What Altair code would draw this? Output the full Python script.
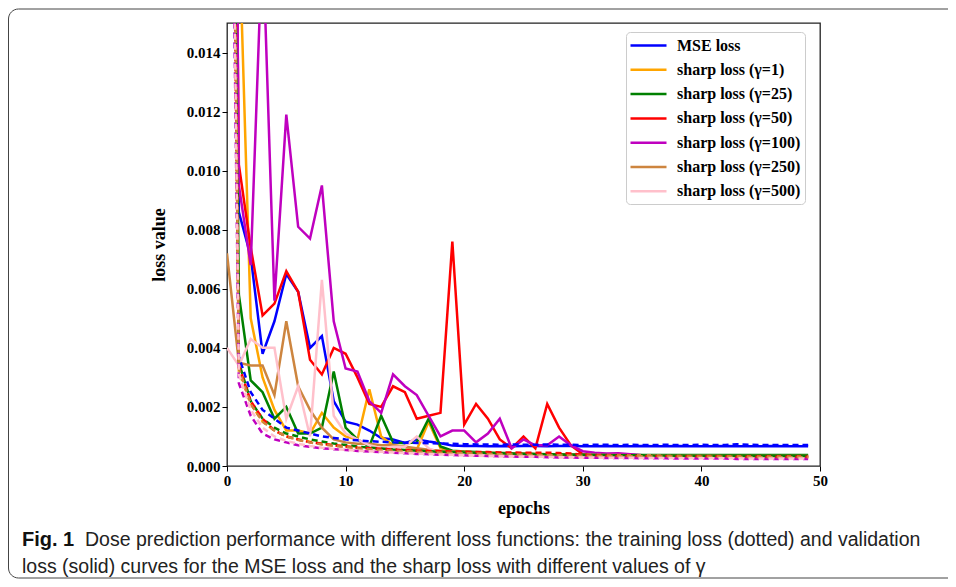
import altair as alt
import pandas as pd

epochs = list(range(50))

series_names = ["MSE loss", "sharp loss (γ=1)", "sharp loss (γ=25)", "sharp loss (γ=50)",
                "sharp loss (γ=100)", "sharp loss (γ=250)", "sharp loss (γ=500)"]
colors = ["#0000ff", "#ffa500", "#008000", "#ff0000", "#bf00bf", "#cd853f", "#ffc0cb"]

blue_val = [0.040, 0.0086, 0.0071, 0.0038, 0.0049, 0.0065, 0.0059, 0.0040, 0.0044, 0.0022,
            0.0015, 0.0014, 0.0012, 0.00095, 0.0009, 0.00078, 0.0009, 0.00083, 0.00077, 0.00069,
            0.00068, 0.00068, 0.00067, 0.00068, 0.00067, 0.00068, 0.00068, 0.00067, 0.00068, 0.00068,
            0.00067, 0.00067, 0.00068, 0.00067, 0.00067, 0.00068, 0.00067, 0.00067, 0.00068, 0.00067,
            0.00067, 0.00067, 0.00068, 0.00067, 0.00067, 0.00067, 0.00068, 0.00067, 0.00067, 0.00067]
blue_train = [0.036, 0.0037, 0.0025, 0.0019, 0.0016, 0.0013, 0.0012, 0.0011, 0.00100, 0.00095,
              0.00090, 0.00087, 0.00084, 0.00082, 0.00080, 0.00079, 0.00078, 0.00077, 0.00076, 0.00075,
              0.00074, 0.00073, 0.00073, 0.00072, 0.00073, 0.00072, 0.00072, 0.00073, 0.00072, 0.00072,
              0.00071, 0.00072, 0.00072, 0.00071, 0.00072, 0.00071, 0.00071, 0.00072, 0.00071, 0.00071,
              0.00072, 0.00071, 0.00071, 0.00074, 0.00072, 0.00071, 0.00071, 0.00071, 0.00071, 0.00071]

orange_val = [0.060, 0.0184, 0.0050, 0.0030, 0.0019, 0.0012, 0.0012, 0.0011, 0.0018, 0.0013,
              0.0010, 0.0009, 0.0026, 0.0010, 0.0007, 0.00065, 0.00055, 0.0015, 0.0006, 0.0005,
              0.00048, 0.00046, 0.00044, 0.00042, 0.00041, 0.00040, 0.00039, 0.00039, 0.00038, 0.00038,
              0.00037, 0.00037, 0.00036, 0.00036, 0.00036, 0.00036, 0.00035, 0.00035, 0.00035, 0.00035,
              0.00035, 0.00035, 0.00035, 0.00034, 0.00034, 0.00034, 0.00034, 0.00034, 0.00034, 0.00034]
orange_train = [0.042, 0.0032, 0.0021, 0.0015, 0.0012, 0.0010, 0.0009, 0.00082, 0.00076, 0.00070,
                0.00066, 0.00062, 0.00059, 0.00056, 0.00054, 0.00052, 0.00050, 0.00048, 0.00047, 0.00045,
                0.00044, 0.00043, 0.00042, 0.00041, 0.00040, 0.00039, 0.00038, 0.00037, 0.00037, 0.00036,
                0.00035, 0.00035, 0.00034, 0.00034, 0.00033, 0.00033, 0.00033, 0.00032, 0.00032, 0.00032,
                0.00031, 0.00031, 0.00031, 0.00031, 0.00030, 0.00030, 0.00030, 0.00030, 0.00030, 0.00030]

green_val = [0.045, 0.0058, 0.0029, 0.0025, 0.0016, 0.0020, 0.0011, 0.0011, 0.0013, 0.0032,
             0.0013, 0.0009, 0.00066, 0.0017, 0.0008, 0.00077, 0.0008, 0.0016, 0.00066, 0.00052,
             0.00049, 0.00047, 0.00045, 0.00044, 0.00043, 0.00042, 0.00041, 0.00040, 0.00040, 0.00039,
             0.00039, 0.00038, 0.00038, 0.00038, 0.00038, 0.00037, 0.00037, 0.00037, 0.00037, 0.00037,
             0.00037, 0.00037, 0.00037, 0.00037, 0.00037, 0.00037, 0.00037, 0.00037, 0.00037, 0.00037]
green_train = [0.048, 0.0035, 0.0022, 0.0016, 0.0013, 0.0011, 0.0010, 0.00090, 0.00083, 0.00076,
               0.00071, 0.00066, 0.00062, 0.00059, 0.00056, 0.00054, 0.00052, 0.00050, 0.00048, 0.00047,
               0.00046, 0.00045, 0.00044, 0.00043, 0.00042, 0.00041, 0.00040, 0.00040, 0.00039, 0.00038,
               0.00038, 0.00037, 0.00037, 0.00036, 0.00036, 0.00036, 0.00035, 0.00035, 0.00035, 0.00034,
               0.00034, 0.00034, 0.00034, 0.00034, 0.00033, 0.00033, 0.00033, 0.00033, 0.00033, 0.00033]

red_val = [0.050, 0.0102, 0.0074, 0.0051, 0.0055, 0.0066, 0.0059, 0.0036, 0.0031, 0.0040,
           0.0038, 0.0030, 0.0021, 0.0020, 0.0027, 0.0025, 0.0016, 0.0017, 0.0018, 0.0076,
           0.0014, 0.0021, 0.0016, 0.0009, 0.0006, 0.0010, 0.0006, 0.0021, 0.0013, 0.0007,
           0.00040, 0.00035, 0.00034, 0.00033, 0.00033, 0.00032, 0.00032, 0.00032, 0.00031, 0.00031,
           0.00031, 0.00031, 0.00031, 0.00031, 0.00030, 0.00030, 0.00030, 0.00030, 0.00030, 0.00030]
red_train = [0.040, 0.0034, 0.0022, 0.0016, 0.0012, 0.0010, 0.00090, 0.00080, 0.00075, 0.00070,
             0.00066, 0.00062, 0.00060, 0.00058, 0.00056, 0.00054, 0.00052, 0.00051, 0.00050, 0.00049,
             0.00048, 0.00047, 0.00047, 0.00046, 0.00046, 0.00045, 0.00045, 0.00045, 0.00044, 0.00042,
             0.00038, 0.00036, 0.00035, 0.00034, 0.00034, 0.00033, 0.00033, 0.00033, 0.00032, 0.00032,
             0.00032, 0.00032, 0.00032, 0.00031, 0.00031, 0.00031, 0.00031, 0.00031, 0.00031, 0.00031]

purple_val = [0.060, 0.0095, 0.0068, 0.0180, 0.0056, 0.0119, 0.0081, 0.0077, 0.0095, 0.0049,
              0.0033, 0.0032, 0.0022, 0.0018, 0.0031, 0.0027, 0.0024, 0.0017, 0.0010, 0.0012,
              0.0012, 0.0008, 0.0011, 0.0016, 0.0006, 0.0009, 0.0007, 0.0007, 0.0010, 0.0007,
              0.00050, 0.00045, 0.00042, 0.00043, 0.00040, 0.00036, 0.00034, 0.00033, 0.00033, 0.00033,
              0.00032, 0.00032, 0.00032, 0.00032, 0.00032, 0.00032, 0.00032, 0.00032, 0.00032, 0.00032]
purple_train = [0.035, 0.0028, 0.0017, 0.0011, 0.00090, 0.00080, 0.00070, 0.00065, 0.00060, 0.00057,
                0.00054, 0.00051, 0.00049, 0.00047, 0.00045, 0.00043, 0.00041, 0.00040, 0.00038, 0.00037,
                0.00036, 0.00035, 0.00034, 0.00033, 0.00032, 0.00031, 0.00031, 0.00030, 0.00029, 0.00029,
                0.00028, 0.00028, 0.00027, 0.00027, 0.00027, 0.00026, 0.00026, 0.00026, 0.00025, 0.00025,
                0.00025, 0.00025, 0.00025, 0.00024, 0.00024, 0.00024, 0.00024, 0.00024, 0.00024, 0.00024]

brown_val = [0.0072, 0.0035, 0.0034, 0.0034, 0.0024, 0.0049, 0.0027, 0.0019, 0.0013, 0.0009,
             0.0008, 0.00075, 0.00075, 0.0007, 0.0007, 0.00065, 0.0006, 0.00055, 0.00052, 0.00050,
             0.00048, 0.00046, 0.00045, 0.00044, 0.00043, 0.00042, 0.00041, 0.00040, 0.00039, 0.00039,
             0.00038, 0.00038, 0.00037, 0.00037, 0.00036, 0.00036, 0.00036, 0.00035, 0.00035, 0.00035,
             0.00035, 0.00035, 0.00034, 0.00034, 0.00034, 0.00034, 0.00034, 0.00034, 0.00034, 0.00034]
brown_train = [0.045, 0.0033, 0.0021, 0.0015, 0.0012, 0.0010, 0.00088, 0.00080, 0.00073, 0.00068,
               0.00064, 0.00060, 0.00057, 0.00054, 0.00052, 0.00050, 0.00048, 0.00046, 0.00045, 0.00044,
               0.00043, 0.00042, 0.00041, 0.00040, 0.00039, 0.00038, 0.00037, 0.00037, 0.00036, 0.00035,
               0.00035, 0.00034, 0.00034, 0.00033, 0.00033, 0.00033, 0.00032, 0.00032, 0.00032, 0.00031,
               0.00031, 0.00031, 0.00031, 0.00031, 0.00030, 0.00030, 0.00030, 0.00030, 0.00030, 0.00030]

pink_val = [0.0040, 0.0034, 0.0043, 0.0040, 0.0040, 0.0016, 0.0027, 0.0010, 0.0063, 0.0017,
            0.0011, 0.0009, 0.0007, 0.0006, 0.00065, 0.00065, 0.0010, 0.0006, 0.00042, 0.00038,
            0.00036, 0.00035, 0.00034, 0.00033, 0.00032, 0.00032, 0.00031, 0.00031, 0.00030, 0.00030,
            0.00030, 0.00029, 0.00029, 0.00029, 0.00029, 0.00028, 0.00028, 0.00028, 0.00028, 0.00028,
            0.00028, 0.00028, 0.00028, 0.00027, 0.00027, 0.00027, 0.00027, 0.00027, 0.00027, 0.00027]
pink_train = [0.038, 0.0031, 0.0019, 0.0013, 0.0010, 0.00085, 0.00075, 0.00068, 0.00062, 0.00058,
              0.00055, 0.00052, 0.00050, 0.00048, 0.00046, 0.00044, 0.00042, 0.00041, 0.00039, 0.00038,
              0.00037, 0.00036, 0.00035, 0.00034, 0.00033, 0.00032, 0.00032, 0.00031, 0.00030, 0.00030,
              0.00029, 0.00029, 0.00028, 0.00028, 0.00028, 0.00027, 0.00027, 0.00027, 0.00026, 0.00026,
              0.00026, 0.00026, 0.00026, 0.00026, 0.00025, 0.00025, 0.00025, 0.00025, 0.00025, 0.00025]

x_ticks = [0, 10, 20, 30, 40, 50]
y_ticks = [0.000, 0.002, 0.004, 0.006, 0.008, 0.010, 0.012, 0.014]

caption_bold = "Fig. 1"
caption_line1 = "Dose prediction performance with different loss functions: the training loss (dotted) and validation"
caption_line2 = "loss (solid) curves for the MSE loss and the sharp loss with different values of γ"

val_lists = [blue_val, orange_val, green_val, red_val, purple_val, brown_val, pink_val]
train_lists = [blue_train, orange_train, green_train, red_train, purple_train, brown_train, pink_train]

val_rows, train_rows = [], []
for i, name in enumerate(series_names):
    for e in epochs:
        val_rows.append({"epoch": e, "loss": val_lists[i][e], "series": name})
        train_rows.append({"epoch": e, "loss": train_lists[i][e], "series": name})
val_df = pd.DataFrame(val_rows)
train_df = pd.DataFrame(train_rows)

SERIF = "Liberation Serif"

x_enc = alt.X("epoch:Q", scale=alt.Scale(domain=[0, 50], nice=False),
              axis=alt.Axis(values=x_ticks, title="epochs", labelFlush=False, domain=False,
                            grid=False, tickSize=5, titlePadding=11))
y_enc = alt.Y("loss:Q", scale=alt.Scale(domain=[0, 0.015], nice=False),
              axis=alt.Axis(values=y_ticks, format=".3f", title="loss value", domain=False,
                            grid=False, tickSize=5, titlePadding=18))
color_scale = alt.Scale(domain=series_names, range=colors)

val_layer = alt.Chart(val_df).mark_line(strokeWidth=2.5, clip=True).encode(
    x=x_enc, y=y_enc,
    color=alt.Color("series:N", scale=color_scale, sort=series_names,
                    legend=alt.Legend(title=None, orient="none", legendX=399, legendY=9,
                                      symbolType="M-1.125,0H3.375", symbolSize=256,
                                      symbolStrokeWidth=2.5, labelOffset=28, rowPadding=6.3,
                                      padding=4, labelFont=SERIF, labelFontWeight="bold",
                                      labelFontSize=16, labelColor="black", labelLimit=300,
                                      fillColor="white", strokeColor="#cccccc", cornerRadius=4)),
)
train_layer = alt.Chart(train_df).mark_line(strokeWidth=2.5, strokeDash=[6, 4], clip=True).encode(
    x=x_enc, y=y_enc,
    color=alt.Color("series:N", scale=color_scale, sort=series_names, legend=None),
)

one = pd.DataFrame({"a": [0]})
frame = alt.Chart(one).mark_rect(fill=None, stroke="#444444", strokeWidth=1, cornerRadius=10).encode(
    x=alt.value(-218.5), x2=alt.value(740), y=alt.value(-14), y2=alt.value(555))

cap_font = "Liberation Sans"
cap1 = alt.Chart(pd.DataFrame({"t": [caption_bold]})).mark_text(
    align="left", baseline="alphabetic", font=cap_font, fontSize=20, fontWeight="bold", color="#111111"
).encode(x=alt.value(-205), y=alt.value(523), text="t:N")
cap2 = alt.Chart(pd.DataFrame({"t": [caption_line1]})).mark_text(
    align="left", baseline="alphabetic", font=cap_font, fontSize=19.5, color="#222222"
).encode(x=alt.value(-142), y=alt.value(523), text="t:N")
cap3 = alt.Chart(pd.DataFrame({"t": [caption_line2]})).mark_text(
    align="left", baseline="alphabetic", font=cap_font, fontSize=19.5, color="#222222"
).encode(x=alt.value(-205), y=alt.value(550), text="t:N")

chart = alt.layer(val_layer, train_layer, frame, cap1, cap2, cap3).properties(
    width=593, height=443,
    autosize=alt.AutoSizeParams(type="none"),
    padding={"left": 219, "top": 15, "right": 128, "bottom": 113},
).configure_view(
    stroke="#222222", strokeWidth=1.3
).configure_axis(
    labelFont=SERIF, labelFontWeight="bold", labelFontSize=15, labelColor="black",
    titleFont=SERIF, titleFontWeight="bold", titleFontSize=18, titleColor="black",
    tickColor="black", tickWidth=1
)

chart.save("out.html", embed_options={"renderer": "svg", "actions": False})
